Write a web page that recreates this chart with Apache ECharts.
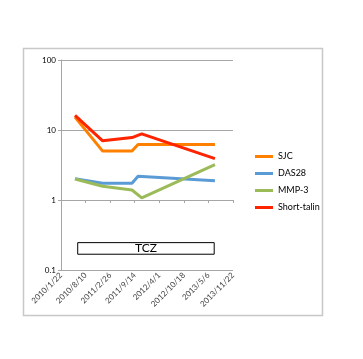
<!DOCTYPE html>
<html>
<head>
<meta charset="utf-8">
<script src="https://cdn.jsdelivr.net/npm/echarts@6/dist/echarts.min.js"></script>
<style>html,body{margin:0;padding:0;background:#fff;}#c{width:363px;height:359px;}</style>
</head>
<body>
<div id="c"></div>
<script>
const xTickLabels = ['2010/1/22','2010/8/10','2011/2/26','2011/9/14','2012/4/1','2012/10/18','2013/5/6','2013/11/22'];
const dates = ['2010/5/16','2010/12/27','2011/8/23','2011/10/11','2011/11/10','2013/6/28'];
const seriesNames = ['SJC','DAS28','MMP-3','Short-talin'];
const sjc = [15.3, 5.0, 5.0, 6.2, null, 6.2];
const das28 = [2.02, 1.73, 1.73, 2.18, null, 1.89];
const mmp3 = [2.0, 1.57, 1.39, null, 1.07, 3.2];
const shortTalin = [16.2, 7.0, 7.8, null, 8.8, 3.9];
const yTicks = [0.1, 1, 10, 100];
const tczDates = ['2010/6/7','2013/6/22'];
const tczValues = [0.168, 0.246];
const tczLabel = 'TCZ';

function toDays(s){
  const p = s.split('/').map(Number);
  const b = xTickLabels[0].split('/').map(Number);
  return (Date.UTC(p[0],p[1]-1,p[2]) - Date.UTC(b[0],b[1]-1,b[2]))/86400000;
}
const xMax = toDays(xTickLabels[xTickLabels.length-1]);
const xInterval = toDays(xTickLabels[1]);
function pairs(vals){ return dates.map((d,i)=>[toDays(d), vals[i]]); }

const colors = ['#FF8000','#5B9BD5','#9BBB59','#FF2400'];
const font = 'Lato, "Liberation Sans", sans-serif';
const chart = echarts.init(document.getElementById('c'), null, {renderer:'canvas'});
const mkSeries = (name, vals, i) => ({
  name, type:'line', data: pairs(vals), connectNulls:true, showSymbol:false, symbol:'none',
  lineStyle:{width:3, color:colors[i]}, itemStyle:{color:colors[i]}, z: 3 + i
});
const series = [
  mkSeries(seriesNames[0], sjc, 0),
  mkSeries(seriesNames[1], das28, 1),
  mkSeries(seriesNames[2], mmp3, 2),
  mkSeries(seriesNames[3], shortTalin, 3)
];
series[0].markArea = {
  silent:true,
  itemStyle:{color:'#ffffff', borderColor:'#000', borderWidth:1},
  label:{show:true, position:'inside', formatter:tczLabel, color:'#000', fontSize:12, fontFamily:font},
  data:[[{coord:[toDays(tczDates[0]), tczValues[0]]},{coord:[toDays(tczDates[1]), tczValues[1]]}]]
};
chart.setOption({
  animation:false,
  backgroundColor:'#fff',
  color: colors,
  graphic:[{type:'rect', shape:{x:23.5,y:48.5,width:299,height:267}, style:{fill:'none', stroke:'#c8c8c8', lineWidth:1.5}, z:-10}],
  legend:{
    orient:'vertical', left:255, top:151, padding:0, itemWidth:18, itemHeight:3, itemGap:6, itemTextGap:1,
    icon:'rect', data: seriesNames,
    textStyle:{fontSize:9, lineHeight:11, color:'#000', fontFamily:font}
  },
  grid:{left:61, right:130, top:60, bottom:89, containLabel:false},
  xAxis:[{
    type:'value', min:0, max:xMax, interval:xInterval,
    axisLine:{show:false}, axisTick:{show:false}, splitLine:{show:false},
    axisLabel:{rotate:45, fontSize:8, color:'#404040', margin:4, fontFamily:font,
      formatter:(v)=> xTickLabels[Math.round(v/xInterval)] || ''}
  },{
    type:'value', min:0, max:xMax, interval:xInterval, position:'bottom', offset:-70,
    axisLine:{show:true, lineStyle:{color:'#a6a6a6', width:1}},
    axisTick:{show:true, length:3, lineStyle:{color:'#a6a6a6'}},
    axisLabel:{show:false}, splitLine:{show:false}
  }],
  yAxis:{
    type:'log', logBase:10, min:yTicks[0], max:yTicks[yTicks.length-1],
    axisLine:{show:true, lineStyle:{color:'#a6a6a6', width:1}},
    axisTick:{show:true, length:3, lineStyle:{color:'#a6a6a6'}},
    splitLine:{show:true, lineStyle:{color:'#a6a6a6', width:1}},
    minorTick:{show:false},
    axisLabel:{fontSize:8, color:'#000', margin:5, fontFamily:font,
      formatter:(v)=> String(yTicks.find(t=>Math.abs(t-v)<1e-9*Math.max(1,v)) ?? v)}
  },
  series
});
</script>
</body>
</html>
